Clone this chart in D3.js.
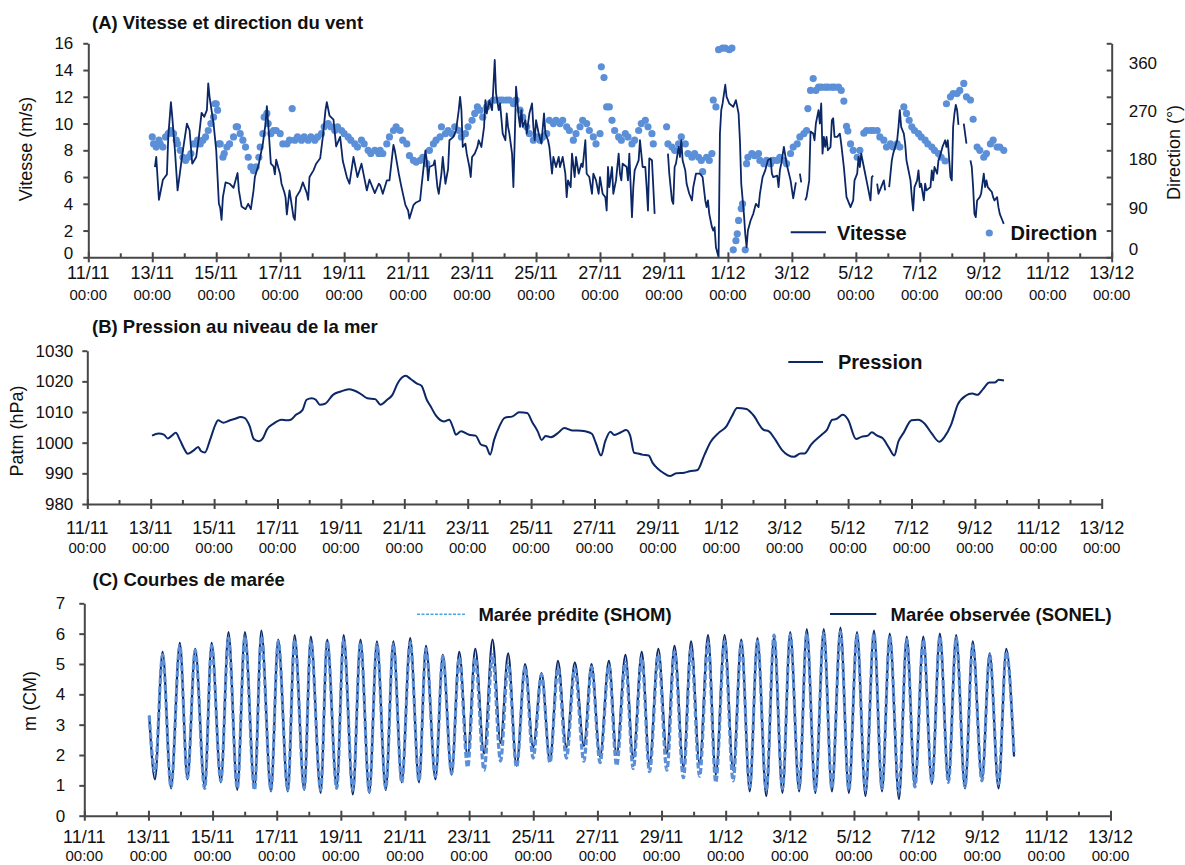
<!DOCTYPE html>
<html><head><meta charset="utf-8">
<script src="https://cdn.jsdelivr.net/npm/d3@7"></script>
<style>
body{margin:0;background:#fff}
svg{display:block}
</style>
</head><body>
<svg id="c" width="1185" height="865"></svg>
<script>
// ---------------- DATA (time = hours since 13/11 00:00) ----------------
const dateTicks = ["11/11","13/11","15/11","17/11","19/11","21/11","23/11","25/11","27/11","29/11","1/12","3/12","5/12","7/12","9/12","11/12","13/12"];
const timeTickLabel = "00:00";
const speedTicks = [0,2,4,6,8,10,12,14,16];
const dirTickMarks = [0,50,100,150,200,250,300,350,400];
const dirTickLabels = [0,90,180,270,360];
const pressTicks = [980,990,1000,1010,1020,1030];
const tideTicks = [0,1,2,3,4,5,6,7];

// Wind speed (m/s); null = gap
const windSpeed = [[2,6.75],[3,7.5],[5,4.3],[8,5.8],[11,6.2],[12,9],[14,11.6],[15,10.5],[17,8],[19,5],[21,6.5],[23,8],[26,10],[28,9.5],[30,7],[33,7.5],[35,9],[37,10.8],[39,10.5],[41,11],[42,13],[43,12],[46,10],[48,8],[50,4],[51,3.7],[52,2.8],[53,4.5],[55,5.6],[58,5.5],[61,5.2],[64,6.3],[65,5],[67,3.8],[70,3.6],[72,4],[74,3.6],[76,5],[77,6],[80,7],[83,8.5],[85,10],[86,11.3],[87,10],[89,7],[91,6.8],[92,6.2],[93,7.3],[96,6.2],[97,5.5],[99,4.9],[100,4.5],[101,3.2],[103,5],[106,3],[107,2.8],[108,4.5],[111,5],[113,5.6],[116,4.8],[117,4.3],[118,6],[121,6.5],[123,7],[126,7.4],[128,9],[130,11],[131,11.6],[133,10.6],[136,10.3],[138,8.3],[141,9],[143,7.2],[146,6],[148,5.5],[151,7.5],[154,6],[157,7],[161,5],[163,5.8],[167,4.8],[170,5.5],
[171,5.4],[173,4.75],[176,5.75],[178,5.75],[181,8.4],[182,8],[185,6.25],[187,5.25],[190,3.9],[192,3.5],[193,2.9],[196,3.9],[198,4.1],[201,4.25],[202,5.25],[205,8],[206,7.25],[207,5.75],[208,6.75],[211,6.9],[212,7.25],[214,5.25],[215,4.75],[217,6.25],[218,7.5],[220,5.5],[222,6.6],[223,8.75],[226,9],[228,9.5],[230,11],[231,12],[232,11],[233,8.25],[235,8.5],[236,7.75],[238,6.75],[239,6],[240,7.5],[242,7.75],[244,8.25],[245,8.75],[247,8.25],[249,9.75],[250,11.75],[251,10.75],[253,11.75],[255,11],[256,12.75],[257,14.75],[258,12.25],[260,11],[261,11.5],[263,9.25],[265,8.75],[266,10.75],[267,9.75],[268,9.25],[270,7.75],[271,5.25],[272,8.75],[273,12.75],[275,10.5],[276,9.75],[277,11],[278,9.75],[280,10.25],[281,9.25],[283,10.75],[285,11.5],[286,9.75],[287,8.75],[288,10.25],[290,9.25],[292,8.5],[294,10.75],[295,9.25],[297,8.75],[298,8.25],[300,6.25],[301,7.5],[303,6.75],[305,7.5],[306,6.75],[308,7.5],[310,6.25],[311,4.5],[312,5.75],[314,5.25],[315,7.75],[317,6],[318,7.5],[320,6.25],[322,7],[323,6.75],[325,8.75],[326,6.25],[328,6],[330,4.75],[331,6.25],[333,5.75],[335,4.75],[336,6],[338,4.75],[340,4.5],[341,3.5],[342,6.75],[343,5.25],[345,6.75],[346,4.75],[348,5.75],[350,7.75],[351,6.25],[352,5.75],[353,7],[356,6.75],[357,5.75],[358,7.75],[360,3],[361,5.25],[362,6.5],[363,6.75],[365,7.25],[366,8.75],[368,6.75],[370,6.75],[371,5.25],[372,3.5],[373,7.4],[375,7.25],[376,5.25],[377,3.25],[380,null],[387,7.75],[388,6.25],[390,4.25],[391,4],[392,6.75],[393,7],[395,8.25],[396,7.5],[397,8.75],[398,7.25],[400,6.5],[401,5.5],[403,4.75],[405,4.25],[406,5.25],[408,6.25],[411,6.25],[413,6],[415,4.25],[416,3.75],[417,4.25],[418,3.25],[420,2.25],[421,2],[422,2.25],[423,0.75],[425,0],[426,9.25],[427,11],[428,11.5],[430,12.9],[431,12],[432,11.75],[433,11.5],[436,11.25],[438,11.75],[440,10.75],[441,8.75],[442,5.5],[444,3.25],[445,1.75],[446,0.75],[447,2],[449,2.75],[451,3.25],[453,4],[455,3.75],
[456,4.75],[458,6],[460,6.5],[462,7.25],[464,7.4],[465,6.25],[466,6],[469,6.1],[470,5.25],[471,6.5],[472,7],[474,8.25],[476,7],[479,5.75],[481,4.4],[483,5.6],[485,null],[486,6.25],[487,5.6],[489,null],[490,4.25],[491,4.5],[493,5.75],[494,9.4],[496,9.25],[497,8.75],[498,10],[499,10.5],[500,11],[501,10],[502,11.5],[503,7.75],[504,9],[505,8.25],[506,9],[507,8],[509,8.25],[510,10.25],[511,10.4],[512,9],[514,9],[516,9.25],[517,8.5],[519,6.75],[521,4.5],[522,4.25],[524,3.75],[526,4.25],[527,5.75],[529,6.25],[530,7.5],[531,6.75],[532,7.75],[534,6.75],[535,6.25],[536,5.75],[537,5.25],[539,4.25],[540,6],[541,6.1],[543,null],[544,5.5],[545,4.75],[546,5],[547,5.25],[549,5.75],[550,5],[552,null],[553,5.25],[554,6.25],[555,7.25],[556,7.75],[559,8.75],[560,9.75],[561,11],[562,9.75],[564,9.25],[565,8.5],[566,7.25],[567,6.75],[569,5.75],[570,4.5],[571,3.5],[572,5.25],[574,5.75],[575,6.5],[576,5.25],[577,5.5],[579,4.25],[580,5.5],[581,5],[584,5.25],[585,6.5],[586,5.75],[587,6.75],[589,6.25],[590,7.25],[591,7.5],[593,8.25],[595,8.75],[596,8.25],[597,8.75],[599,6],[600,5.75],[601,9.75],[602,10.75],[603,11.4],[604,11],[605,9.9],[607,null],[609,10],[611,8.5],[613,null],[614,7.25],[615,6.75],[616,5.25],[617,3.25],[618,3],[619,4.25],[621,4.5],[622,4.75],[624,6.25],[625,5.25],[626,5.75],[627,5.25],[629,5],[630,4.9],[631,4.5],[632,4.25],[634,4.5],[635,3.75],[636,3.25],[638,2.75],[639,2.5]];

// Wind direction (degrees)
const windDir = [[0,225],[1,212],[3,206],[5,219],[6,212],[8,206],[10,225],[12,231],[14,237],[16,231],[18,219],[19,212],[21,200],[23,187],[25,181],[27,187],[29,194],[31,212],[33,212],[34,219],[36,212],[38,219],[40,225],[42,237],[44,250],[46,262],[47,287],[48,287],[49,275],[50,212],[51,212],[53,187],[54,194],[56,206],[58,212],[61,225],[63,244],[64,244],[66,231],[68,219],[70,206],[72,187],[74,169],[76,162],[78,169],[80,187],[81,206],[83,231],[84,262],[86,269],[87,250],[89,231],[91,237],[93,237],[96,231],[98,212],[101,212],[103,219],[105,278],[107,219],[109,225],[112,219],[114,225],[117,219],[119,225],[122,219],[124,225],[127,231],[129,244],[132,250],[134,244],[137,237],[139,244],[142,237],[144,231],[147,225],[149,219],[152,212],[154,206],[157,219],[159,212],[162,200],[164,194],[167,200],[170,194],
[171,200],[173,194],[176,212],[178,225],[181,237],[183,244],[186,237],[188,219],[191,212],[193,190],[196,181],[198,178],[201,181],[203,187],[206,175],[208,200],[211,212],[213,219],[216,225],[217,244],[220,231],[222,237],[225,231],[227,244],[230,237],[232,225],[235,231],[237,244],[240,256],[242,269],[244,281],[246,275],[248,262],[251,281],[253,287],[256,294],[258,294],[261,294],[263,294],[266,294],[268,294],[271,287],[273,294],[276,275],[278,262],[281,244],[283,231],[286,219],[288,225],[291,219],[293,225],[296,231],[298,256],[301,250],[303,256],[306,250],[308,256],[311,244],[313,237],[316,219],[318,231],[321,244],[323,256],[326,250],[328,237],[331,225],[333,212],[336,231],[337,356],[339,336],[341,281],[343,281],[345,256],[347,237],[350,225],[352,219],[355,231],[357,225],[360,212],[362,219],[365,237],[367,250],[370,256],[372,244],[375,231],[376,212],[386,244],[387,212],[390,206],[392,200],[395,212],[397,225],[400,212],[402,194],[405,187],[407,194],[410,187],[412,181],[413,160],[416,187],[418,181],[420,194],[421,294],[423,281],[425,388],[428,391],[430,391],[433,388],[435,391],[436,14],[438,31],[439,44],[440,69],[442,91],[443,100],[445,14],[446,175],[447,187],[450,194],[452,190],[455,194],
[456,181],[459,175],[461,181],[464,175],[466,181],[469,181],[471,187],[474,181],[476,175],[479,194],[481,206],[484,212],[486,225],[489,231],[491,237],[492,278],[494,312],[496,334],[498,312],[500,318],[502,318],[505,318],[507,318],[510,318],[512,318],[515,318],[517,312],[519,292],[521,245],[522,236],[524,212],[526,200],[529,187],[531,200],[534,232],[536,237],[539,237],[541,237],[544,237],[546,225],[549,219],[551,206],[554,212],[556,206],[559,212],[561,206],[564,281],[566,269],[568,256],[570,244],[572,237],[575,231],[577,225],[580,219],[582,212],[585,206],[587,200],[590,194],[592,187],[595,180],[596,287],[599,300],[601,306],[604,306],[606,312],[609,325],[611,300],[614,294],[616,258],[619,206],[621,200],[624,187],[626,194],[629,212],[631,219],[634,206],[636,206],[639,200]];

// Sea-level pressure (hPa)
const pressure = [[1,1002.3],[6,1003],[10,1002.6],[13,1001.4],[16,1002.3],[19,1003.2],[22,1001],[25,998.3],[28,996.4],[32,997.3],[36,998.6],[38,997.3],[41,996.8],[45,1001],[49,1005.9],[51,1007.3],[55,1006.5],[60,1007.3],[64,1007.8],[68,1008.4],[71,1008.1],[75,1005.3],[78,1001.2],[82,1000.5],[85,1001.5],[88,1004.3],[93,1006.2],[99,1007.5],[103,1007.3],[106,1007.5],[110,1009.1],[115,1010.7],[118,1014],[122,1014.5],[125,1014],[128,1012.4],[132,1012.7],[138,1015.6],[144,1016.7],[150,1017.4],[154,1017],[158,1016.2],[164,1014.5],[170,1014.2],[174,1012.4],[179,1014],[183,1015.6],[187,1019.4],[193,1021.8],[197,1020.7],[202,1019.2],[205,1018.6],[209,1014],[212,1011.8],[216,1008.8],[222,1006.9],[226,1007.5],[229,1004.8],[231,1002.6],[235,1003.7],[241,1002.6],[246,1002.3],[250,999.4],[254,998.8],[257,996.1],[260,1000.9],[264,1005.3],[268,1008.1],[274,1008.6],[279,1009.9],[285,1009.7],[289,1006.6],[293,1003.7],[296,1000.9],[299,1002.2],[303,1001.8],[309,1003.4],[313,1004.8],[319,1004],[323,1004],[329,1003.7],[334,1002.9],[337,999.9],[341,995.8],[344,1000.3],[348,1003.6],[351,1002.5],[356,1003.4],[360,1004.1],[363,1002.3],[366,996.7],[369,996.5],[372,996.1],[377,995.8],[380,993.4],[384,991.5],[388,990.2],[393,989.1],[398,990],[404,990.2],[408,990.7],[414,991.1],[419,995.8],[424,1000.3],[430,1003.2],[436,1005.4],[440,1008.6],[444,1011.3],[451,1011],[456,1009.1],[464,1004.2],[468,1003.7],[473,1000.9],[478,997.6],[487,995.4],[492,996.5],[495,996.5],[500,999.4],[508,1002.6],[512,1004.2],[516,1007.5],[519,1007.7],[524,1009.1],[528,1007.5],[534,1001.2],[538,1001.9],[543,1002.3],[546,1003.4],[550,1002.3],[554,1001.5],[559,998.3],[563,995.8],[566,1000.3],[570,1003.2],[576,1007.3],[581,1007.5],[586,1006.2],[591,1003.2],[597,1000.3],[601,1001.9],[606,1005.9],[611,1012.4],[617,1015.3],[622,1016],[626,1015.6],[630,1017.4],[635,1019.6],[639,1019.6],[642,1020.5],[646,1020.3]];

// Tide: times of turning points (h), observed (SONEL) and predicted (SHOM) heights (m)
const tideHours = [0.6,4.9,10.6,16.9,23.5,29.2,35.0,42.1,47.3,54.2,59.9,66.5,72.2,79.4,84.5,91.7,97.1,104.3,109.4,116.6,121.5,128.9,133.8,140.9,146.1,153.0,158.7,165.3,171.0,177.6,183.3,189.6,195.9,202.5,207.7,214.8,220.3,226.9,232.6,238.9,244.6,251.2,257.5,263.5,269.2,275.5,281.9,287.9,294.2,300.5,306.5,312.8,319.1,325.9,331.6,338.0,344.6,350.4,357.0,362.8,369.2,375.0,381.6,388.0,393.7,400.4,406.1,412.5,418.8,424.6,431.2,437.6,443.7,450.0,455.8,462.4,468.2,474.5,480.3,487.0,492.7,499.1,505.4,511.5,517.9,524.2,530.3,536.6,543.0,549.0,554.8,561.7,567.5,573.6,579.9,586.3,592.3,598.7,604.5,611.1,616.9,623.8,629.6,636.2,642.0,647.8];
const tideObserved = [3.3,1.2,5.4,0.9,5.7,1.2,5.5,0.95,5.7,1.1,6.05,0.85,6.05,0.9,6.1,0.8,5.8,0.8,5.95,0.85,5.9,0.75,5.8,0.95,5.95,0.7,5.8,0.75,5.75,0.85,5.75,1.1,5.85,1.1,5.6,1.2,5.3,1.35,5.4,1.95,5.5,2.05,5.8,2.4,5.35,1.65,5.0,2.25,4.7,1.8,5.1,2.25,5.05,2.3,5.0,1.95,5.1,2.0,5.3,1.9,5.4,1.7,5.5,2.05,5.6,1.6,5.75,1.7,5.95,1.35,5.95,1.5,5.8,0.8,5.85,0.65,5.9,0.75,6.05,0.8,6.15,0.75,6.15,0.8,6.2,0.75,6.05,0.65,6.1,0.8,6.0,0.55,5.9,1.0,5.9,1.05,6.0,1.15,5.95,0.9,5.75,1.2,5.35,0.9,5.5,1.95];
const tidePredicted = [3.3,1.45,5.3,0.95,5.6,1.25,5.45,0.9,5.6,1.15,5.85,0.9,5.9,0.85,5.9,0.85,5.75,0.85,5.8,0.9,5.75,0.85,5.75,0.9,5.8,0.85,5.7,0.8,5.65,0.9,5.65,1.1,5.7,1.15,5.5,1.3,5.25,1.4,5.2,1.6,5.2,1.5,5.3,1.8,5.0,1.6,4.9,1.9,4.65,1.75,4.85,1.9,4.85,1.8,4.9,1.75,4.95,1.65,5.05,1.55,5.2,1.45,5.3,1.5,5.4,1.25,5.5,1.3,5.7,1.1,5.75,1.15,5.7,0.95,5.75,0.85,5.95,0.9,5.95,0.9,6.0,0.85,6.0,0.9,6.05,0.85,5.95,0.85,6.0,0.9,5.9,0.8,5.8,0.95,5.8,1.1,5.9,1.1,5.85,0.95,5.6,1.15,5.3,1.05,5.4,2.0];

// ---------------- RENDER ----------------
const FONT = '"Liberation Sans", Arial, Helvetica, sans-serif';
const AXC = "#474747", TXT = "#111", NAVY = "#0b2766", LBLUE = "#5b8fd8";
const svg = d3.select("#c").attr("font-family", FONT);
const base = Date.UTC(2011, 10, 13);
const toDate = h => new Date(base + h * 3600e3);
const majorDates = dateTicks.map(s => { const [dd, mm] = s.split("/"); return new Date(Date.UTC(2011, +mm - 1, +dd)); });
const xDomain = [majorDates[0], majorDates[majorDates.length - 1]];
const majorSet = new Set(majorDates.map(d => +d));
const minorDates = d3.utcDay.range(xDomain[0], xDomain[1]).filter(d => !majorSet.has(+d));
const fmtInt = d3.format("d");

const P = {
  A: {xL: 88.3, xR: 1111.7, yT: 43.3, yB: 257.3, dOff: 22, tOff: 43, gap: 15},
  B: {xL: 87.3, xR: 1101.7, yT: 350.7, yB: 504, dOff: 30, tOff: 49, gap: 14},
  C: {xL: 84.3, xR: 1110.5, yT: 603.3, yB: 815.7, dOff: 27, tOff: 45, gap: 19}
};

function styleAxis(g) {
  g.attr("font-family", FONT);
  g.selectAll("path.domain, .tick line").attr("stroke", AXC).attr("stroke-width", 2);
}

function xAxis(p, x) {
  const g = svg.append("g").attr("transform", `translate(0,${p.yB})`);
  g.call(d3.axisBottom(x).tickValues(majorDates).tickSizeInner(5).tickSizeOuter(0).tickFormat(""));
  g.selectAll(".tick line").attr("y1", -5).attr("y2", 5);
  const gm = g.append("g").call(d3.axisBottom(x).tickValues(minorDates).tickSizeInner(-4).tickSizeOuter(0).tickFormat(""));
  gm.select(".domain").remove();
  styleAxis(g);
  g.selectAll("text.dl").data(majorDates).join("text").attr("class", "dl")
    .attr("x", d => x(d)).attr("y", p.dOff).attr("text-anchor", "middle")
    .attr("font-size", 18).attr("fill", TXT).text((d, i) => dateTicks[i]);
  g.selectAll("text.tl").data(majorDates).join("text").attr("class", "tl")
    .attr("x", d => x(d)).attr("y", p.tOff).attr("text-anchor", "middle")
    .attr("font-size", 15).attr("fill", TXT).text(timeTickLabel);
}

function yAxis(p, y, ticks) {
  const g = svg.append("g").attr("transform", `translate(${p.xL},0)`);
  g.call(d3.axisLeft(y).tickValues(ticks).tickFormat(fmtInt).tickSizeInner(5).tickSizeOuter(0).tickPadding(p.gap - 5));
  styleAxis(g);
  g.selectAll("text").attr("font-size", 17).attr("fill", TXT);
  return g;
}

function title(txt, x, y) {
  svg.append("text").attr("x", x).attr("y", y).attr("font-size", 18.5).attr("font-weight", "bold").attr("fill", TXT).text(txt);
}
function yTitle(txt, x, y) {
  svg.append("text").attr("transform", `translate(${x},${y}) rotate(-90)`).attr("text-anchor", "middle")
    .attr("font-size", 18).attr("fill", TXT).text(txt);
}

// ---- Panel A ----
{
  const p = P.A;
  const x = d3.scaleUtc().domain(xDomain).range([p.xL, p.xR]);
  const y = d3.scaleLinear().domain([0, 16]).range([p.yB, p.yT]);
  const y2 = d3.scaleLinear().domain([0, 400]).range([p.yB, p.yT]);

  svg.append("g").selectAll("circle").data(windDir).join("circle")
    .attr("cx", d => x(toDate(d[0]))).attr("cy", d => y2(d[1])).attr("r", 3.6).attr("fill", LBLUE);

  const line = d3.line().defined(d => d[1] != null).x(d => x(toDate(d[0]))).y(d => y(d[1]));
  svg.append("path").datum(windSpeed).attr("d", line).attr("fill", "none").attr("stroke", NAVY)
    .attr("stroke-width", 1.8).attr("stroke-linejoin", "round");

  xAxis(p, x);
  const gy = yAxis(p, y, speedTicks);
  // the lowest label sits a little higher so it clears the date labels
  gy.selectAll(".tick text").filter(d => d === 0).attr("dy", "0.08em");
  const gR = svg.append("g").attr("transform", `translate(${p.xR},0)`);
  gR.call(d3.axisRight(y2).tickValues(dirTickMarks).tickSizeInner(-5).tickSizeOuter(0).tickFormat(""));
  styleAxis(gR);
  gR.selectAll("text.rl").data(dirTickLabels).join("text").attr("class", "rl")
    .attr("x", 17).attr("y", d => d === 0 ? y2(d) - 8 : y2(d) - 1.5).attr("dy", "0.35em")
    .attr("font-size", 17).attr("fill", TXT).text(d => d);

  title("(A) Vitesse et direction du vent", 92, 29);
  yTitle("Vitesse (m/s)", 31.5, 149);
  yTitle("Direction (°)", 1179.5, 152.5);

  // legend
  svg.append("line").attr("x1", 790.7).attr("x2", 826).attr("y1", 232.3).attr("y2", 232.3).attr("stroke", NAVY).attr("stroke-width", 2);
  svg.append("text").attr("x", 837).attr("y", 239.5).attr("font-size", 20).attr("font-weight", "bold").attr("fill", TXT).text("Vitesse");
  svg.append("circle").attr("cx", 989.3).attr("cy", 233).attr("r", 3.6).attr("fill", LBLUE);
  svg.append("text").attr("x", 1010.5).attr("y", 239.5).attr("font-size", 20).attr("font-weight", "bold").attr("fill", TXT).text("Direction");
}

// ---- Panel B ----
{
  const p = P.B;
  const x = d3.scaleUtc().domain(xDomain).range([p.xL, p.xR]);
  const y = d3.scaleLinear().domain([980, 1030]).range([p.yB, p.yT]);
  const line = d3.line().curve(d3.curveMonotoneX).x(d => x(toDate(d[0]))).y(d => y(d[1]));
  svg.append("path").datum(pressure).attr("d", line).attr("fill", "none").attr("stroke", NAVY)
    .attr("stroke-width", 2).attr("stroke-linejoin", "round");
  xAxis(p, x);
  yAxis(p, y, pressTicks);
  title("(B) Pression au niveau de la mer", 92, 333);
  yTitle("Patm (hPa)", 23, 431);
  svg.append("line").attr("x1", 788.3).attr("x2", 823).attr("y1", 362).attr("y2", 362).attr("stroke", NAVY).attr("stroke-width", 2);
  svg.append("text").attr("x", 838).attr("y", 369).attr("font-size", 20).attr("font-weight", "bold").attr("fill", TXT).text("Pression");
}

// ---- Panel C ----
{
  const p = P.C;
  const x = d3.scaleUtc().domain(xDomain).range([p.xL, p.xR]);
  const y = d3.scaleLinear().domain([0, 7]).range([p.yB, p.yT]);
  const n = Math.min(tideHours.length, tideObserved.length, tidePredicted.length);
  const obs = d3.range(n).map(i => [tideHours[i], tideObserved[i]]);
  const pred = d3.range(n).map(i => [tideHours[i], tidePredicted[i]]);
  const line = d3.line().curve(d3.curveMonotoneX).x(d => x(toDate(d[0]))).y(d => y(d[1]));
  svg.append("path").datum(obs).attr("d", line).attr("fill", "none").attr("stroke", NAVY).attr("stroke-width", 2.2);
  svg.append("path").datum(pred).attr("d", line).attr("fill", "none").attr("stroke", LBLUE)
    .attr("stroke-width", 3.2).attr("stroke-dasharray", "6,2.5");
  xAxis(p, x);
  yAxis(p, y, tideTicks);
  title("(C) Courbes de marée", 92.6, 585.5);
  yTitle("m (CM)", 36, 701);
  svg.append("line").attr("x1", 417).attr("x2", 466).attr("y1", 614.3).attr("y2", 614.3).attr("stroke", "#4aa6e6")
    .attr("stroke-width", 1.6).attr("stroke-dasharray", "3,1.5");
  svg.append("text").attr("x", 478.4).attr("y", 621).attr("font-size", 18.5).attr("font-weight", "bold").attr("fill", TXT).text("Marée prédite (SHOM)");
  svg.append("line").attr("x1", 830).attr("x2", 876.3).attr("y1", 614).attr("y2", 614).attr("stroke", NAVY).attr("stroke-width", 2);
  svg.append("text").attr("x", 890.6).attr("y", 621).attr("font-size", 18.5).attr("font-weight", "bold").attr("fill", TXT).text("Marée observée (SONEL)");
}
</script>
</body></html>
